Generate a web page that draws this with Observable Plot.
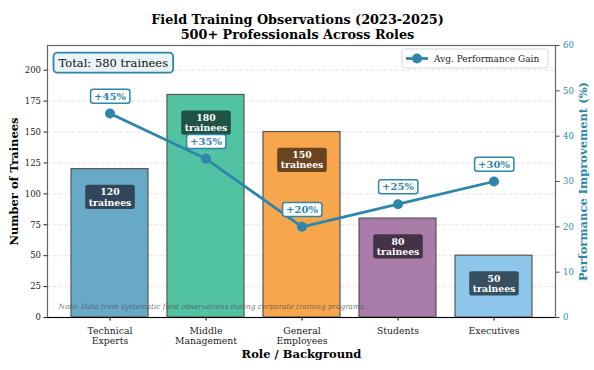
<!DOCTYPE html>
<html><head><meta charset="utf-8">
<script src="https://cdn.jsdelivr.net/npm/d3@7"></script>
<script src="https://cdn.jsdelivr.net/npm/@observablehq/plot@0.6"></script>
<style>
body{margin:0;background:#fff;}
svg{font-family:"DejaVu Serif",serif;}
</style></head><body>
<div id="chart"></div>
<script>
const roles = ["Technical\nExperts","Middle\nManagement","General\nEmployees","Students","Executives"];
const trainees = [120,180,150,80,50];
const gains = [45,35,20,25,30];
const barColors = ["#68a9c7","#51c2a2","#f7a64b","#aa7caa","#8ec5ea"];
const labelBoxColors = ["#2c3e4f","#1c4a3c","#5d3c1c","#3e2b3e","#2f4554"];
const leftTicks = [0,25,50,75,100,125,150,175,200];
const rightTicks = [0,10,20,30,40,50,60];
const yMax = 220, rMax = 60, K = yMax / rMax;
const blue = "#2e86ab";

const data = roles.map((r,i)=>({role:r, count:trainees[i], gain:gains[i], color:barColors[i]}));

const W = 594, H = 370;
const plot = Plot.plot({
  width: W, height: H,
  marginTop: 45, marginBottom: 53, marginLeft: 47, marginRight: 39,
  style: {fontFamily: "DejaVu Serif, serif", fontSize: "8.5px", background: "#fff", color: "#222"},
  x: {domain: roles, paddingInner: 0.2, paddingOuter: 0.24, label: null},
  y: {domain: [0, yMax], label: null},
  marks: [
    Plot.gridY(leftTicks.slice(1), {stroke: "#c8c8c8", strokeOpacity: 0.7, strokeDasharray: "3.5,2.5", strokeWidth: 0.7}),
    Plot.barY(data, {x: "role", y: "count", fill: "color", stroke: "#555", strokeWidth: 1.2}),
    Plot.axisX({tickSize: 3.5, tickPadding: 5.5, fontSize: 9.3, lineHeight: 1.12, stroke: "#000", fill: "#222"}),
    Plot.axisY({ticks: leftTicks, tickSize: 3.5, tickPadding: 3, fontSize: 8.5, label: null}),
    Plot.axisY({anchor: "right", ticks: rightTicks.map(p=>p*K), tickFormat: d=>Math.round(d/K), tickSize: 3.5, tickPadding: 4, fontSize: 8.5, fill: blue, stroke: "#444", label: null}),
    Plot.frame({stroke: "#666", strokeWidth: 1.2}),
    Plot.ruleY([0], {stroke: "#000", strokeWidth: 1.2}),
    // bar value labels
    Plot.text(data, {x: "role", y: "count", text: d => `${d.count}\ntrainees`, dy: 28, fill: "#fff", fontWeight: "bold", fontSize: 9.3, lineHeight: 1.1, className: "barlbl"}),
    // line
    Plot.line(data, {x: "role", y: d => d.gain * K, stroke: blue, strokeWidth: 2.8}),
    Plot.dot(data, {x: "role", y: d => d.gain * K, r: 5, fill: blue}),
    Plot.text(data, {x: "role", y: d => d.gain * K, text: d => `+${d.gain}%`, dy: -17, fill: blue, fontWeight: "bold", fontSize: 10, className: "linelbl"}),
    // note
    Plot.text(["Note: Data from systematic field observations during corporate training programs."], {frameAnchor: "bottom-left", dx: 11, dy: -9, textAnchor: "start", fontStyle: "italic", fontSize: 7.3, fill: "#555", fillOpacity: 0.85}),
    // total box
    Plot.text(["Total: 580 trainees"], {frameAnchor: "top-left", dx: 11, dy: 13, textAnchor: "start", fontSize: 11.5, fill: "#111", className: "totallbl"}),
    // title
    Plot.text(["Field Training Observations (2023-2025)\n500+ Professionals Across Roles"], {frameAnchor: "top", dx: -4, dy: -32, fontWeight: "bold", fontSize: 12.8, lineHeight: 1.15, fill: "#000"}),
    // axis labels
    Plot.text(["Role / Background"], {frameAnchor: "bottom", dy: 40, fontWeight: "bold", fontSize: 11.5, fill: "#000"}),
    Plot.text(["Number of Trainees"], {frameAnchor: "left", dx: -33, rotate: -90, textAnchor: "middle", fontWeight: "bold", fontSize: 11.5, fill: "#000"}),
    Plot.text(["Performance Improvement (%)"], {frameAnchor: "right", dx: 28, rotate: -90, textAnchor: "middle", fontWeight: "bold", fontSize: 11.5, fill: blue})
  ]
});
document.getElementById("chart").appendChild(plot);

function boxify(cls, styler, padX, padY, rx) {
  plot.querySelectorAll(`g.${cls} text`).forEach((t, i) => {
    const b = t.getBBox();
    const r = document.createElementNS("http://www.w3.org/2000/svg", "rect");
    r.setAttribute("x", b.x - padX); r.setAttribute("y", b.y - padY);
    r.setAttribute("width", b.width + 2*padX); r.setAttribute("height", b.height + 2*padY);
    r.setAttribute("rx", rx);
    if (t.getAttribute("transform")) r.setAttribute("transform", t.getAttribute("transform"));
    const s = styler(i);
    for (const k in s) r.setAttribute(k, s[k]);
    t.parentNode.insertBefore(r, t);
  });
}
boxify("barlbl", i => ({fill: labelBoxColors[i], "fill-opacity": 0.92}), 3.5, 1.5, 2.5);
boxify("linelbl", i => ({fill: "#fff", stroke: blue, "stroke-width": 1.5}), 3.5, 1.5, 2.5);
boxify("totallbl", i => ({fill: "#e8f4f8", stroke: blue, "stroke-width": 1.8}), 5, 3, 4);

// legend
const ns = "http://www.w3.org/2000/svg";
const lg = document.createElementNS(ns, "g");
const x1 = W - 39 - 153, y1 = 49;
lg.innerHTML = `<rect x="${x1}" y="${y1}" width="146" height="19" rx="2.5" fill="#fff" fill-opacity="0.85" stroke="#ccc" stroke-width="0.8"/>
<line x1="${x1+4}" x2="${x1+26}" y1="${y1+9.5}" y2="${y1+9.5}" stroke="${blue}" stroke-width="2.8"/>
<circle cx="${x1+15}" cy="${y1+9.5}" r="5" fill="${blue}"/>
<text x="${x1+32}" y="${y1+9.5}" dy="0.35em" text-anchor="start" font-size="9" fill="#222">Avg. Performance Gain</text>`;
plot.appendChild(lg);
</script>
</body></html>
